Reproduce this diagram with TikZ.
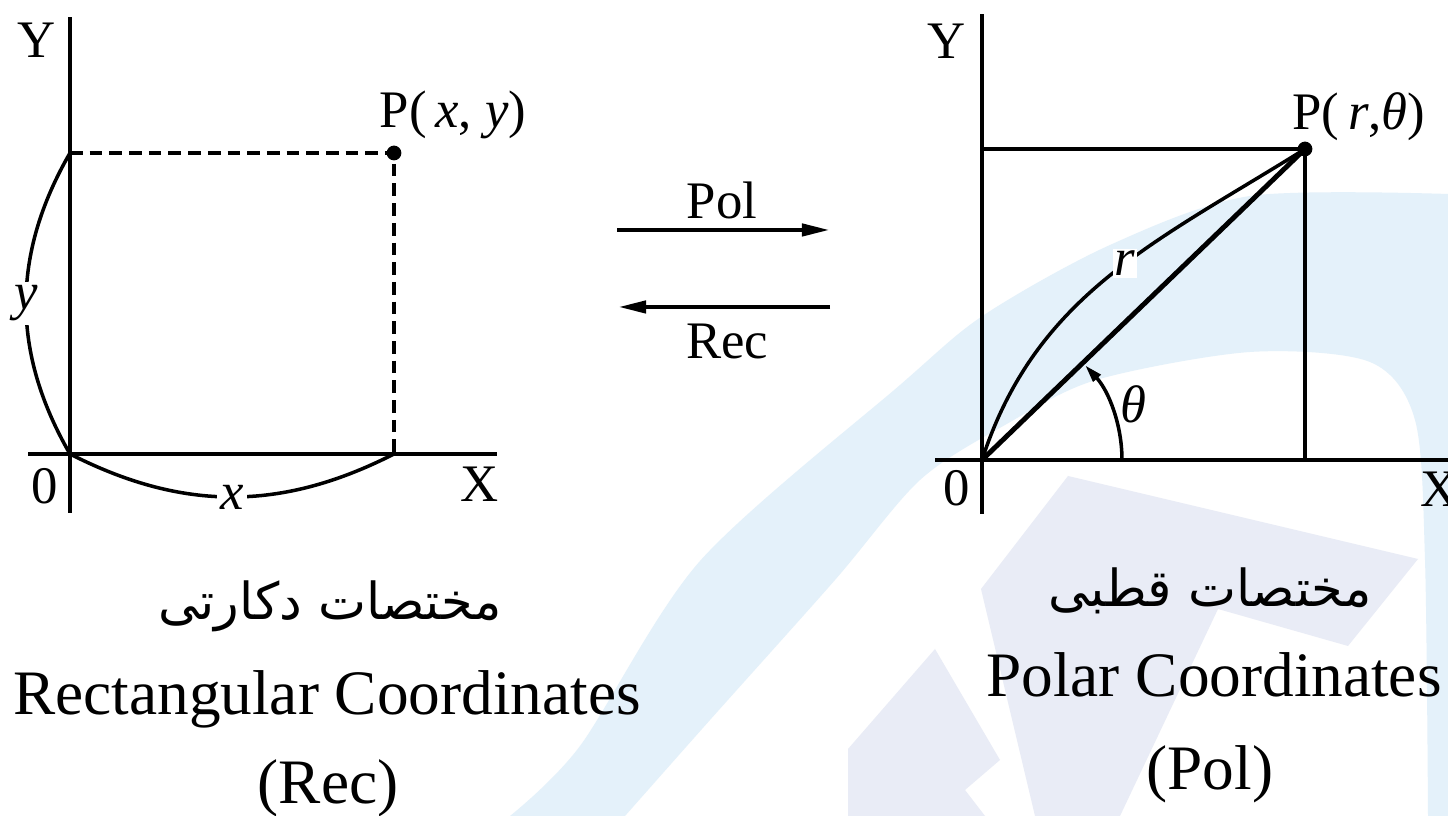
\documentclass[tikz,border=0pt]{standalone}
\usepackage{fontspec}
\setmainfont{Liberation Serif}
\newfontfamily\farsi[Script=Arabic]{DejaVu Sans}
\TeXXeTstate=1
\usetikzlibrary{arrows.meta, positioning}
\definecolor{wmblue}{RGB}{228,241,250}
\definecolor{wmlav}{RGB}{233,236,246}

\begin{document}
\begin{tikzpicture}[x=0.01cm, y=0.01cm,
    axis/.style={line width=1.4pt},
    guide/.style={line width=1.2pt},
    dashguide/.style={line width=1.4pt, dash pattern=on 3.6pt off 2pt},
    brace/.style={line width=1pt},
    dot/.style={circle, fill=black, inner sep=0pt, minimum size=4.2pt},
    lbl/.style={font=\fontsize{15}{18}\selectfont, inner sep=1pt},
    caption/.style={font=\fontsize{18}{22}\selectfont, anchor=base, inner sep=0pt},
    fatext/.style={font=\farsi\fontsize{14.5}{18}\selectfont, anchor=base, inner sep=0pt},
    conv/.style={line width=1.3pt, -{Triangle[length=8pt, width=3.4pt]}}
]
    % background and watermark
    \fill[white] (0,0) rectangle (1448,816);
    \useasboundingbox (0,0) rectangle (1448,816);
    \fill[wmblue] plot[smooth] coordinates {(510,0) (580,70) (700,255) (900,431) (984,501) (1110,571) (1250,620) (1448,622)}
        -- (1448,0) -- (1428,0)
        -- plot[smooth] coordinates {(1428,0) (1425,256) (1415,396) (1370,454) (1250,464) (1096,436) (1005,391) (920,336) (835,236) (710,96) (625,0)} -- cycle;
    \fill[wmlav] (1068,340) -- (1418,257) -- (1348,170) -- (1218,207) -- (1120,0) -- (1035,0) -- (981,227) -- cycle;
    \fill[wmlav] (935,167) -- (1000,56) -- (965,26) -- (985,0) -- (848,0) -- (848,67) -- cycle;

    % rectangular coordinates
    \coordinate (oL) at (70,362);
    \coordinate (yL) at (70,663);
    \coordinate (xL) at (394,362);
    \coordinate (ytopL) at (70,799);
    \coordinate (ybotL) at (70,303);
    \coordinate (xlftL) at (28,362);
    \coordinate (xrgtL) at (497,362);
    \node[dot] (pL) at (394,663) {};

    \draw[axis] (ybotL) -- (ytopL);
    \draw[axis] (xlftL) -- (xrgtL);
    \draw[dashguide] (yL) -- (pL.center) -- (xL);
    \draw[brace] (yL) to[bend right=30] node[lbl, fill=white] (yVal) {\textit{y}} (oL);
    \draw[brace] (oL) to[bend right=27] node[lbl, fill=white] (xVal) {\textit{x}} (xL);

    \node[lbl] (yAxL) at (37,776) {Y};
    \node[lbl] (zeroL) at (45,330) {0};
    \node[lbl] (xAxL) at (480,332) {X};
    \node[lbl] (pLbl) at (453,701) {P(\,\textit{x}, \textit{y})};

    % conversion arrows
    \coordinate (polA) at (617,586);
    \coordinate (polB) at (830,586);
    \coordinate (recA) at (830,509);
    \coordinate (recB) at (618,509);
    \draw[conv] (polA) -- (polB);
    \draw[conv] (recA) -- (recB);
    \node[lbl] (pol) at (722,616) {Pol};
    \node[lbl] (rec) at (727,474) {Rec};

    % polar coordinates
    \coordinate (oR) at (982,356);
    \coordinate (cR) at (982,667);
    \coordinate (fR) at (1305,356);
    \coordinate (ytopR) at (982,802);
    \coordinate (ybotR) at (982,302);
    \coordinate (xlftR) at (935,356);
    \coordinate (xrgtR) at (1448,356);
    \coordinate (aR) at (1122,356);
    \node[dot] (pR) at (1305,667) {};

    \draw[axis] (ybotR) -- (ytopR);
    \draw[axis] (xlftR) -- (xrgtR);
    \draw[guide] (cR) -- (pR.center) -- (fR);
    \draw[axis] (oR) -- (pR.center);
    \draw[brace] (oR) to[out=72, in=212] node[lbl, pos=0.55, fill=white, inner sep=0.5pt] (rVal) {\textit{r}} (pR.center);
    \draw[brace, -{Triangle[length=5pt, width=2.8pt]}] (aR) arc[start angle=0, end angle=42.5, radius=140];

    \node[lbl] (yAxR) at (947,775) {Y};
    \node[lbl] (zeroR) at (957,328) {0};
    \node[lbl] (xAxR) at (1440,327) {X};
    \node[lbl] (thVal) at (1133,412) {\textit{θ}};
    \node[lbl] (pRLbl) at (1359,699) {P(\,\textit{r},\textit{θ})};

    % captions
    \node[fatext] (rectFa) at (330,196) {\beginR مختصات دکارتی\endR};
    \node[caption] (rectEn) at (327,101) {Rectangular Coordinates};
    \node[caption] (rectAb) at (328,12) {(Rec)};
    \node[fatext] (polFa) at (1210,209) {\beginR مختصات قطبی\endR};
    \node[caption] (polEn) at (1214,119) {Polar Coordinates};
    \node[caption] (polAb) at (1210,26) {(Pol)};
\end{tikzpicture}
\end{document}
